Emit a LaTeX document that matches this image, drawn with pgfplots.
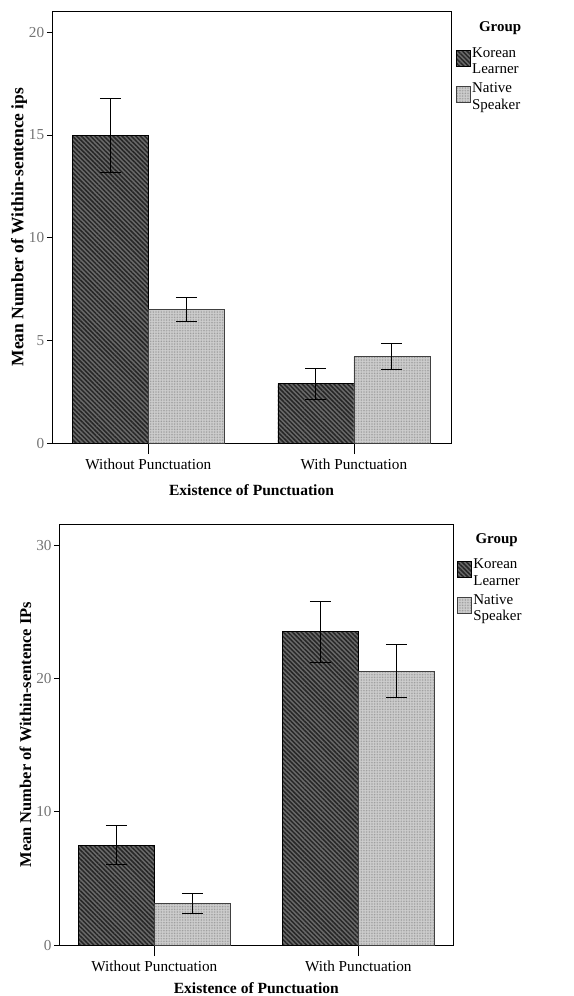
\documentclass[border=0pt]{standalone}
\usepackage{fontspec}
\setmainfont{Liberation Serif}
\usepackage{pgfplots}
\usepackage{pgfplotstable}
\pgfplotsset{compat=1.18}
\usetikzlibrary{patterns.meta}

\pgfplotstableread{
x y ep em
0 15.00 1.77 1.83
1 2.89 0.76 0.75
}\topKL
\pgfplotstableread{
x y ep em
0 6.49 0.59 0.58
1 4.20 0.64 0.64
}\topNS
\pgfplotstableread{
x y ep em
0 7.50 1.50 1.45
1 23.50 2.30 2.30
}\botKL
\pgfplotstableread{
x y ep em
0 3.10 0.80 0.77
1 20.53 2.00 1.98
}\botNS

\definecolor{kbase}{HTML}{6A6A6A}
\definecolor{nbase}{HTML}{D0D0D0}

\pgfplotsset{
  KL/.style={fill=kbase, draw=black, line width=0.7bp,
    postaction={pattern={Lines[angle=-45,distance=3.2bp,line width=1.5bp]}, pattern color=black!85}},
  NS/.style={fill=nbase, draw=black!75, line width=0.7bp,
    postaction={pattern={Dots[distance=1.6bp,radius=0.45bp]}, pattern color=black!45}},
  EB/.style={error bars/.cd, y dir=both, y explicit,
    error bar style={draw=black, line width=1bp},
    error mark options={draw=black, rotate=90, mark size=10.5bp, line width=1bp}},
  chart/.style={
    scale only axis, anchor=south west, clip=false,
    ybar=0pt, bar width=76bp,
    ymin=0,
    xtick={0,1}, xticklabels={Without Punctuation, With Punctuation},
    xtick pos=left, ytick pos=left,
    tick align=outside,
    x tick style={black, line width=0.8bp, /pgfplots/major tick length=11bp},
    y tick style={black, line width=0.8bp, /pgfplots/major tick length=5bp},
    axis line style={line width=0.8bp},
    ticklabel style={font=\fontsize{15.3}{17}\selectfont},
    xticklabel style={yshift=-8bp},
    yticklabel style={text=black!55},
    /pgf/number format/assume math mode=true,
    xlabel={Existence of Punctuation},
    legend cell align=left,
    legend style={draw=none, fill=none, inner sep=0pt, outer sep=0pt,
      font=\fontsize{15}{17}\selectfont, row sep=4.5bp,
      nodes={inner sep=0.5bp},
      /tikz/every odd column/.append style={column sep=1bp}},
    legend image code/.code={\draw[##1] (0bp,-6bp) rectangle (14bp,10bp);},
  }
}

\begin{document}
\begin{tikzpicture}
\useasboundingbox (0,0) rectangle (574bp,-996bp);
\begin{axis}[chart,
  at={(52bp,-443bp)}, width=399bp, height=432bp,
  xmin=-0.468, xmax=1.472, ymax=21.04,
  ytick={0,5,10,15,20},
  xlabel style={font=\bfseries\fontsize{15.6}{17}\selectfont, yshift=-8bp},
  ylabel={Mean Number of Within-sentence ips},
  ylabel style={font=\bfseries\fontsize{17.5}{19}\selectfont},
  ylabel shift=-5bp,
  legend style={at={(rel axis cs:1.0125,0.922)}, anchor=north west},
]
\addplot[KL, EB] table[x=x, y=y, y error plus=ep, y error minus=em]{\topKL};
\addlegendentry{\begin{tabular}[b]{@{}l@{}}Korean\\Learner\end{tabular}}
\addplot[NS, EB] table[x=x, y=y, y error plus=ep, y error minus=em]{\topNS};
\addlegendentry{\begin{tabular}[b]{@{}l@{}}Native\\Speaker\end{tabular}}
\node[font=\bfseries\fontsize{15}{17}\selectfont] at (rel axis cs:1.123,0.960) {Group};
\end{axis}

\begin{axis}[chart,
  at={(59.3bp,-945bp)}, width=394bp, height=420.7bp,
  xmin=-0.466, xmax=1.466, ymax=31.56,
  ytick={0,10,20,30},
  xlabel style={font=\bfseries\fontsize{15.6}{17}\selectfont, yshift=-4.5bp},
  ylabel={Mean Number of Within-sentence IPs},
  ylabel style={font=\bfseries\fontsize{16.5}{18}\selectfont},
  ylabel shift=-2bp,
  legend style={at={(rel axis cs:1.010,0.925)}, anchor=north west},
]
\addplot[KL, EB] table[x=x, y=y, y error plus=ep, y error minus=em]{\botKL};
\addlegendentry{\begin{tabular}[b]{@{}l@{}}Korean\\Learner\end{tabular}}
\addplot[NS, EB] table[x=x, y=y, y error plus=ep, y error minus=em]{\botNS};
\addlegendentry{\begin{tabular}[b]{@{}l@{}}Native\\Speaker\end{tabular}}
\node[font=\bfseries\fontsize{15}{17}\selectfont] at (rel axis cs:1.110,0.962) {Group};
\end{axis}
\end{tikzpicture}
\end{document}
